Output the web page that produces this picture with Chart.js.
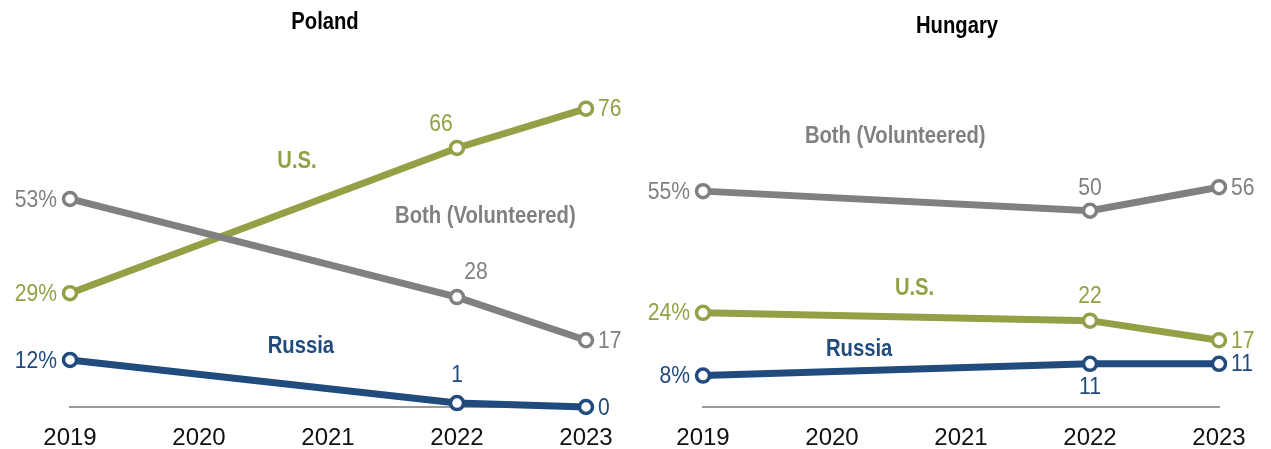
<!DOCTYPE html>
<html>
<head>
<meta charset="utf-8">
<script src="https://cdn.jsdelivr.net/npm/chart.js@4.4.1/dist/chart.umd.min.js"></script>
<style>
  html, body { margin: 0; padding: 0; background: #fff; }
  #wrap { position: relative; width: 1271px; height: 449px; }
  .panel { position: absolute; top: 0; height: 449px; }
  #p1 { left: 0; width: 635px; }
  #p2 { left: 635px; width: 636px; }
</style>
</head>
<body>
<div id="wrap">
  <div class="panel" id="p1"><canvas id="c1"></canvas></div>
  <div class="panel" id="p2"><canvas id="c2"></canvas></div>
</div>
<script>
// ---- Data ----
const years = [2019, 2022, 2023];
const tickYears = [2019, 2020, 2021, 2022, 2023];
const panelTitles = ["Poland", "Hungary"];
const seriesNames = ["U.S.", "Both (Volunteered)", "Russia"];
const polandUS = [29, 66, 76];
const polandBoth = [53, 28, 17];
const polandRussia = [12, 1, 0];
const hungaryUS = [24, 22, 17];
const hungaryBoth = [55, 50, 56];
const hungaryRussia = [8, 11, 11];

// ---- Styles ----
const OLIVE = '#959F45';
const GRAY = '#808080';
const NAVY = '#214A7D';
const FONT = '"Liberation Sans", Arial, sans-serif';
const SQUEEZE = 0.88;

function pts(vals) { return vals.map((v, i) => ({ x: years[i], y: v })); }

function ds(label, vals, color, midOffset) {
  return {
    label: label,
    data: pts(vals),
    borderColor: color,
    backgroundColor: '#ffffff',
    borderWidth: 7,
    pointRadius: 6.5,
    pointBorderWidth: 3.5,
    pointBackgroundColor: '#ffffff',
    pointBorderColor: color,
    pointHoverRadius: 6.5,
    tension: 0,
    clip: false,
    midOffset: midOffset
  };
}

// draw condensed text
function ctext(ctx, str, x, y) {
  ctx.save();
  ctx.translate(x, y);
  ctx.scale(SQUEEZE, 1);
  ctx.fillText(str, 0, 0);
  ctx.restore();
}

const labelPlugin = {
  id: 'labelPlugin',
  afterDatasetsDraw(chart, args, opts) {
    const ctx = chart.ctx;
    const xs = chart.scales.x, ys = chart.scales.y;
    ctx.save();
    chart.data.datasets.forEach((d, di) => {
      const meta = chart.getDatasetMeta(di);
      ctx.fillStyle = d.borderColor;
      ctx.font = '24px ' + FONT;
      ctx.textBaseline = 'middle';
      meta.data.forEach((el, i) => {
        const v = d.data[i].y;
        if (i === 0) {
          ctx.textAlign = 'right';
          ctext(ctx, v + '%', el.x - 13, el.y + 1);
        } else if (i === d.data.length - 1) {
          ctx.textAlign = 'left';
          ctext(ctx, String(v), el.x + 12, el.y + 1);
        } else {
          const o = d.midOffset || [0, -24];
          ctx.textAlign = 'center';
          ctext(ctx, String(v), el.x + o[0], el.y + o[1]);
        }
      });
    });
    ctx.font = 'bold 23px ' + FONT;
    ctx.textAlign = 'center';
    ctx.textBaseline = 'middle';
    (opts.names || []).forEach(n => {
      ctx.fillStyle = n.color;
      ctext(ctx, n.text, xs.getPixelForValue(n.x), ys.getPixelForValue(n.y));
    });
    ctx.fillStyle = '#000';
    ctx.font = 'bold 23px ' + FONT;
    ctext(ctx, opts.title, (chart.chartArea.left + chart.chartArea.right) / 2 + (opts.titleDx || 0), opts.titleY);
    ctx.restore();
  }
};

function makeChart(id, title, us, both, russia, pad, names, mids, titleY, titleDx) {
  return new Chart(document.getElementById(id), {
    type: 'line',
    data: {
      datasets: [
        ds(seriesNames[1], both, GRAY, mids[1]),
        ds(seriesNames[0], us, OLIVE, mids[0]),
        ds(seriesNames[2], russia, NAVY, mids[2])
      ]
    },
    options: {
      responsive: true,
      maintainAspectRatio: false,
      animation: false,
      events: [],
      layout: { padding: { left: pad[0], right: pad[1], top: 93, bottom: 0 } },
      plugins: {
        legend: { display: false },
        tooltip: { enabled: false },
        labelPlugin: { title: title, titleY: titleY, titleDx: titleDx, names: names }
      },
      scales: {
        x: {
          type: 'linear',
          min: tickYears[0],
          max: tickYears[tickYears.length - 1],
          afterBuildTicks(scale) { scale.ticks = tickYears.map(v => ({ value: v })); },
          afterFit(scale) { scale.height = 42; },
          grid: { display: false, drawTicks: false },
          border: { display: true, color: '#9a9a9a', width: 2 },
          ticks: {
            color: '#111',
            font: { family: FONT, size: 24 },
            padding: 17,
            maxRotation: 0,
            autoSkip: false,
            callback: v => String(v)
          }
        },
        y: { display: false, min: 0, max: 80 }
      }
    },
    plugins: [labelPlugin]
  });
}

makeChart('c1', panelTitles[0], polandUS, polandBoth, polandRussia, [70, 49], [
  { text: seriesNames[0], color: OLIVE, x: 2020.76, y: 62.4 },
  { text: seriesNames[1], color: GRAY, x: 2022.22, y: 48.4 },
  { text: seriesNames[2], color: NAVY, x: 2020.79, y: 15.3 }
], [[-16, -24], [19, -25], [0, -28]], 23, -3);

makeChart('c2', panelTitles[1], hungaryUS, hungaryBoth, hungaryRussia, [68, 52], [
  { text: seriesNames[0], color: OLIVE, x: 2020.64, y: 30.1 },
  { text: seriesNames[1], color: GRAY, x: 2020.49, y: 69.0 },
  { text: seriesNames[2], color: NAVY, x: 2020.21, y: 14.5 }
], [[0, -24], [0, -22], [0, 24]], 27, -4);
</script>
</body>
</html>
